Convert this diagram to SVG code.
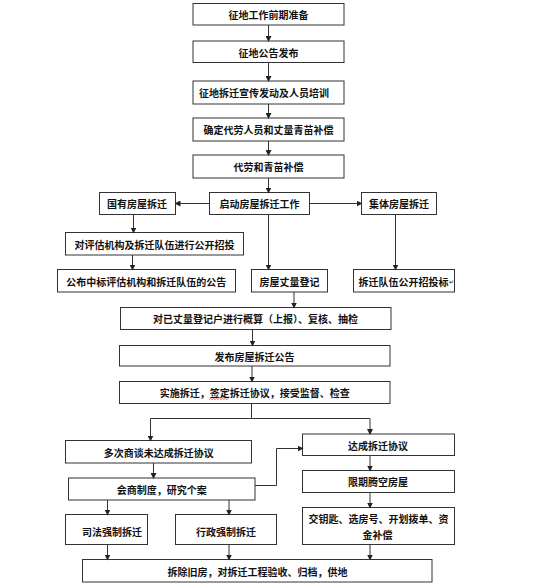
<svg xmlns="http://www.w3.org/2000/svg" width="554" height="586" viewBox="0 0 554 586">
<defs>
<marker id="ah" markerWidth="6" markerHeight="6" refX="5" refY="3" orient="auto" markerUnits="userSpaceOnUse">
<path d="M0,0 L6,3 L0,6 Z" fill="#222"/>
</marker>
<style>
.b{fill:#fff;stroke:#333;stroke-width:1}
.t{font-family:"Noto Sans CJK SC","Liberation Sans",sans-serif;font-size:10px;font-weight:bold;fill:#111;text-anchor:middle;dominant-baseline:central}
.c{fill:none;stroke:#333;stroke-width:1}
.a{marker-end:url(#ah)}
</style>
</defs>
<rect width="554" height="586" fill="#fff"/>
<g id="n1"><rect class="b" x="193" y="3.5" width="151" height="21.5"/><text class="t" x="268.5" y="14.5">征地工作前期准备</text></g>
<g id="n2"><rect class="b" x="193" y="41" width="151" height="21.5"/><text class="t" x="268.5" y="52">征地公告发布</text></g>
<g id="n3"><rect class="b" x="193" y="81" width="151" height="23"/><text class="t" x="264" y="92.5">征地拆迁宣传发动及人员培训</text></g>
<g id="n4"><rect class="b" x="193" y="118" width="151" height="23"/><text class="t" x="268.5" y="129.5">确定代劳人员和丈量青苗补偿</text></g>
<g id="n5"><rect class="b" x="193" y="155" width="151" height="23"/><text class="t" x="268.5" y="166.5">代劳和青苗补偿</text></g>
<g id="n6"><rect class="b" x="99.5" y="192.5" width="76" height="22"/><text class="t" x="137" y="203.5">国有房屋拆迁</text></g>
<g id="n7"><rect class="b" x="209.5" y="192.5" width="100" height="22"/><text class="t" x="259.5" y="203.5">启动房屋拆迁工作</text></g>
<g id="n8"><rect class="b" x="361.5" y="192.5" width="75" height="22"/><text class="t" x="399" y="203.5">集体房屋拆迁</text></g>
<g id="n9"><rect class="b" x="65.5" y="232.5" width="178" height="22.5"/><text class="t" x="154.5" y="244">对评估机构及拆迁队伍进行公开招投</text></g>
<g id="n10"><rect class="b" x="57.5" y="269.5" width="178" height="22.5"/><text class="t" x="146.3" y="281">公布中标评估机构和拆迁队伍的公告</text></g>
<g id="n11"><rect class="b" x="251.5" y="269.5" width="76" height="22.5"/><text class="t" x="289.5" y="281">房屋丈量登记</text></g>
<g id="n12"><rect class="b" x="353.5" y="269.5" width="101" height="22.5"/><text class="t" x="406" y="281">拆迁队伍公开招投标<tspan font-size="6" font-weight="normal">↵</tspan></text></g>
<g id="n13"><rect class="b" x="120.5" y="307.5" width="270.5" height="22"/><text class="t" x="255.5" y="318.5">对已丈量登记户进行概算（上报）、复核、抽检</text></g>
<g id="n14"><rect class="b" x="119.5" y="345.5" width="270.5" height="20.5"/><text class="t" x="254.5" y="356">发布房屋拆迁公告</text></g>
<g id="n15"><rect class="b" x="119.5" y="381.5" width="270.5" height="22"/><text class="t" x="254.7" y="392.5">实施拆迁，签定拆迁协议，接受监督、检查</text><path d="M209,399.5 l1.5,-1 1.5,1 1.5,-1 1.5,1 1.5,-1 1.5,1 1.5,-1 1.5,1 1.5,-1 1.5,1 1.5,-1 1.5,1 1.5,-1" fill="none" stroke="#d33" stroke-width="0.7"/></g>
<g id="n16"><rect class="b" x="65.5" y="440.5" width="186" height="22.5"/><text class="t" x="158.7" y="452">多次商谈未达成拆迁协议</text></g>
<g id="n17"><rect class="b" x="302.5" y="434" width="152" height="21.5"/><text class="t" x="378" y="445">达成拆迁协议</text></g>
<g id="n18"><rect class="b" x="68.5" y="478" width="186.5" height="22"/><text class="t" x="161.7" y="489">会商制度，研究个案</text></g>
<g id="n19"><rect class="b" x="302.5" y="470.5" width="152" height="22"/><text class="t" x="378" y="481.5">限期腾空房屋</text></g>
<g id="n20"><rect class="b" x="65.5" y="514.5" width="82" height="30"/><text class="t" x="112" y="531">司法强制拆迁</text></g>
<g id="n21"><rect class="b" x="175.5" y="514.5" width="101" height="30"/><text class="t" x="226" y="531">行政强制拆迁</text></g>
<g id="n22"><rect class="b" x="302.5" y="507.5" width="152" height="37"/><text class="t" x="378.5" y="518.5">交钥匙、选房号、开划拨单、资</text><text class="t" x="377.5" y="534.5">金补偿</text></g>
<g id="n23"><rect class="b" x="82.5" y="559.5" width="349.5" height="22.5"/><text class="t" x="257.5" y="571">拆除旧房，对拆迁工程验收、归档，供地</text></g>
<g id="connectors">
<line class="c a" x1="268.5" y1="25" x2="268.5" y2="41"/>
<line class="c a" x1="268.5" y1="62.5" x2="268.5" y2="81"/>
<line class="c a" x1="268.5" y1="104" x2="268.5" y2="118"/>
<line class="c a" x1="268.5" y1="141" x2="268.5" y2="155"/>
<line class="c a" x1="268.5" y1="178" x2="268.5" y2="192.5"/>
<line class="c a" x1="209.5" y1="203.5" x2="175.5" y2="203.5"/>
<line class="c a" x1="309.5" y1="203.5" x2="361.5" y2="203.5"/>
<line class="c a" x1="133.5" y1="214.5" x2="133.5" y2="232.5"/>
<line class="c a" x1="132.5" y1="255" x2="132.5" y2="269.5"/>
<line class="c a" x1="268.5" y1="214.5" x2="268.5" y2="269.5"/>
<line class="c a" x1="395.5" y1="214.5" x2="395.5" y2="269.5"/>
<line class="c a" x1="294" y1="292" x2="294" y2="307.5"/>
<line class="c a" x1="252.5" y1="329.5" x2="252.5" y2="345.5"/>
<line class="c a" x1="252" y1="366" x2="252" y2="381.5"/>
<polyline class="c" points="251.5,403.5 251.5,418.5"/>
<polyline class="c a" points="251.5,418.5 150.5,418.5 150.5,440.5"/>
<polyline class="c a" points="251.5,418.5 370,418.5 370,434"/>
<line class="c a" x1="153.5" y1="463" x2="153.5" y2="478"/>
<polyline class="c a" points="255,485.5 276.5,485.5 276.5,448.5 302.5,448.5"/>
<line class="c a" x1="370" y1="455.5" x2="370" y2="470.5"/>
<line class="c a" x1="370" y1="492.5" x2="370" y2="507.5"/>
<line class="c a" x1="107.5" y1="500" x2="107.5" y2="514.5"/>
<line class="c a" x1="229" y1="500" x2="229" y2="514.5"/>
<line class="c a" x1="107.5" y1="544.5" x2="107.5" y2="559.5"/>
<line class="c a" x1="229" y1="544.5" x2="229" y2="559.5"/>
<line class="c a" x1="370" y1="544.5" x2="370" y2="559.5"/>
</g>
</svg>
